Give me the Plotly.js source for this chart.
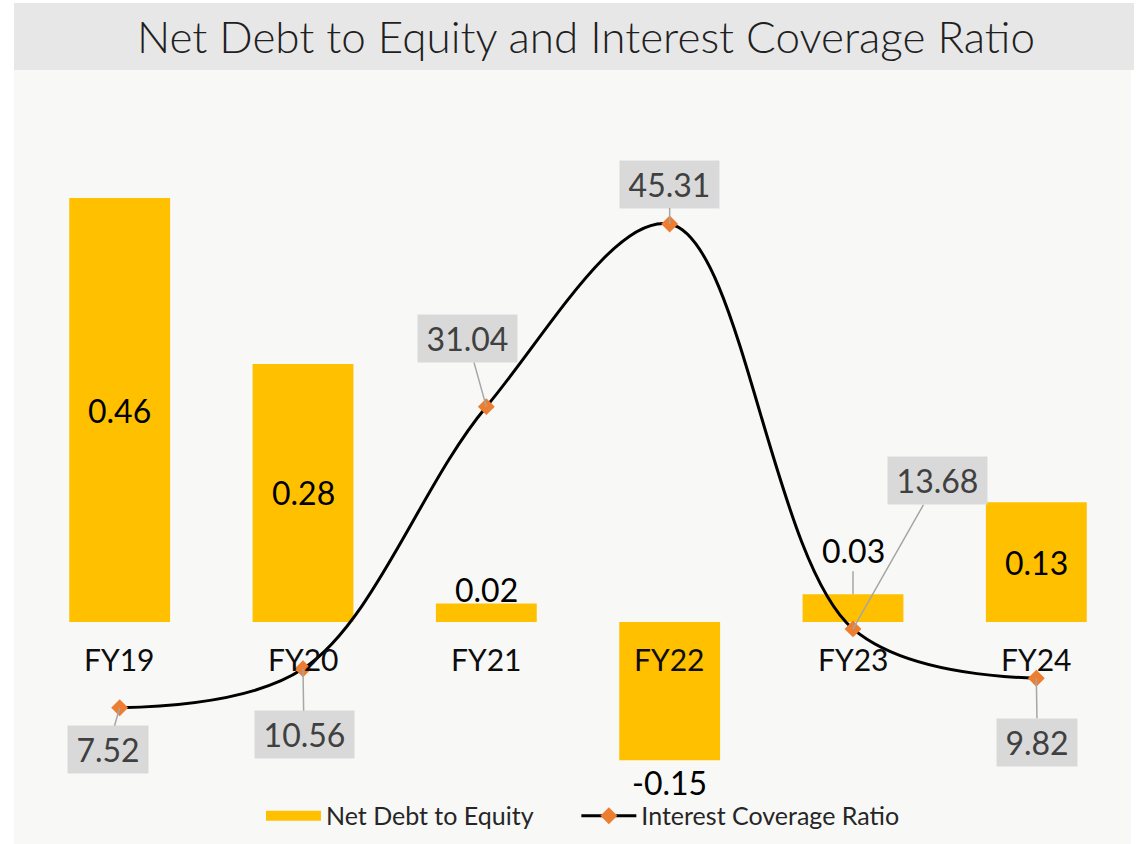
<!DOCTYPE html>
<html>
<head>
<meta charset="utf-8">
<script src="https://cdn.plot.ly/plotly-3.0.1.min.js"></script>
<style>html,body{margin:0;padding:0;background:#fff;}#chart{width:1140px;height:844px;}</style>
</head>
<body>
<div id="chart"></div>
<script>
// ---- data ----
const categories = ["FY19", "FY20", "FY21", "FY22", "FY23", "FY24"];
const netDebtToEquity = [0.46, 0.28, 0.02, -0.15, 0.03, 0.13];
const interestCoverage = [7.52, 10.56, 31.04, 45.31, 13.68, 9.82];
const barLabelPos = ["inside", "inside", "above", "below", "above-leader", "inside"];
const lineLabelOffsets = [[-12, 42], [1, 66], [-19, -68], [0, -40], [84, -148], [1, 64]];

const FONT = "Lato, 'Noto Sans', sans-serif";
const BAR_COLOR = "#FFC000";
const MARK_COLOR = "#ED7D31";
const GAP = "\u00a0\u00a0\u00a0\u00a0\u00a0\u00a0";

const traces = [
  {
    type: "bar", x: categories, y: netDebtToEquity, yaxis: "y",
    marker: {color: BAR_COLOR}, showlegend: false, hoverinfo: "skip", name: "Net Debt to Equity"
  },
  {
    type: "scatter", mode: "lines", x: [categories[0]], y: [null], yaxis: "y",
    line: {color: BAR_COLOR, width: 15}, name: "Net Debt to Equity" + GAP, showlegend: true, hoverinfo: "skip"
  },
  {
    type: "scatter", mode: "lines+markers", x: categories, y: interestCoverage, yaxis: "y2",
    line: {color: "#000000", width: 3, shape: "spline", smoothing: 1},
    marker: {symbol: "diamond", size: 13, color: MARK_COLOR},
    name: "Interest Coverage Ratio", hoverinfo: "skip"
  }
];

const annotations = [];
// category labels
categories.forEach((c) => {
  annotations.push({x: c, y: 0, xref: "x", yref: "y", yshift: -37, text: c, showarrow: false,
    font: {family: FONT, size: 30, color: "#0d0d0d"}});
});
// bar labels
netDebtToEquity.forEach((v, i) => {
  const pos = barLabelPos[i];
  const a = {x: categories[i], xref: "x", yref: "y", text: v.toFixed(2), showarrow: false,
    font: {family: FONT, size: 32, color: "#000"}};
  if (pos === "inside") { a.y = v / 2; }
  else if (pos === "above") { a.y = v; a.yshift = 14; }
  else if (pos === "below") { a.y = v; a.yshift = -22; }
  else { a.y = v; a.showarrow = true; a.arrowhead = 0; a.arrowwidth = 1.5; a.arrowcolor = "#a6a6a6";
    a.ax = 0; a.ay = -44; a.standoff = 0; }
  annotations.push(a);
});
// line labels
interestCoverage.forEach((v, i) => {
  const t = v.toFixed(2);
  annotations.push({x: categories[i], y: v, xref: "x", yref: "y2", text: t,
    showarrow: true, arrowhead: 0, arrowwidth: 1.5, arrowcolor: "#a6a6a6",
    ax: lineLabelOffsets[i][0], ay: lineLabelOffsets[i][1],
    bgcolor: "#d9d9d9", borderpad: 3, width: t.length > 4 ? 93 : 74, height: 41,
    font: {family: FONT, size: 32, color: "#404040"}});
});

const layout = {
  width: 1140, height: 844,
  margin: {l: 28, r: 12, t: 75, b: 44, autoexpand: false},
  paper_bgcolor: "#ffffff", plot_bgcolor: "rgba(0,0,0,0)",
  font: {family: FONT},
  title: {text: "Net Debt to Equity and Interest Coverage Ratio", x: 0.514, xanchor: "center",
    y: 1 - 38 / 844, yanchor: "middle", yref: "container",
    font: {family: FONT, size: 44, color: "#1f1f1f", weight: 300}},
  bargap: 0.45,
  xaxis: {range: [-0.5, 5.5], showgrid: false, zeroline: false, showticklabels: false, showline: false, fixedrange: true},
  yaxis: {range: [-0.1931, 0.5935], showgrid: false, zeroline: false, showticklabels: false, showline: false},
  yaxis2: {range: [0.3125, 56.95], overlaying: "y", side: "right", showgrid: false, zeroline: false,
    showticklabels: false, showline: false},
  showlegend: true,
  legend: {orientation: "h", x: 0.5045, xanchor: "center", y: -0.022, yanchor: "middle",
    itemwidth: 55, font: {family: FONT, size: 25, color: "#262626"}, bgcolor: "rgba(0,0,0,0)"},
  shapes: [
    {type: "rect", xref: "paper", yref: "paper", x0: -0.01273, x1: 1.00273, y0: -0.06069, y1: 1.0069,
      fillcolor: "#f8f8f6", line: {width: 0}, layer: "below"},
    {type: "rect", xref: "paper", yref: "paper", x0: -0.01273, x1: 1.00545, y0: 1.0069, y1: 1.09931,
      fillcolor: "#e7e7e7", line: {width: 0}, layer: "below"}
  ],
  annotations: annotations
};

Plotly.newPlot("chart", traces, layout, {displayModeBar: false, staticPlot: true});
</script>
</body>
</html>
